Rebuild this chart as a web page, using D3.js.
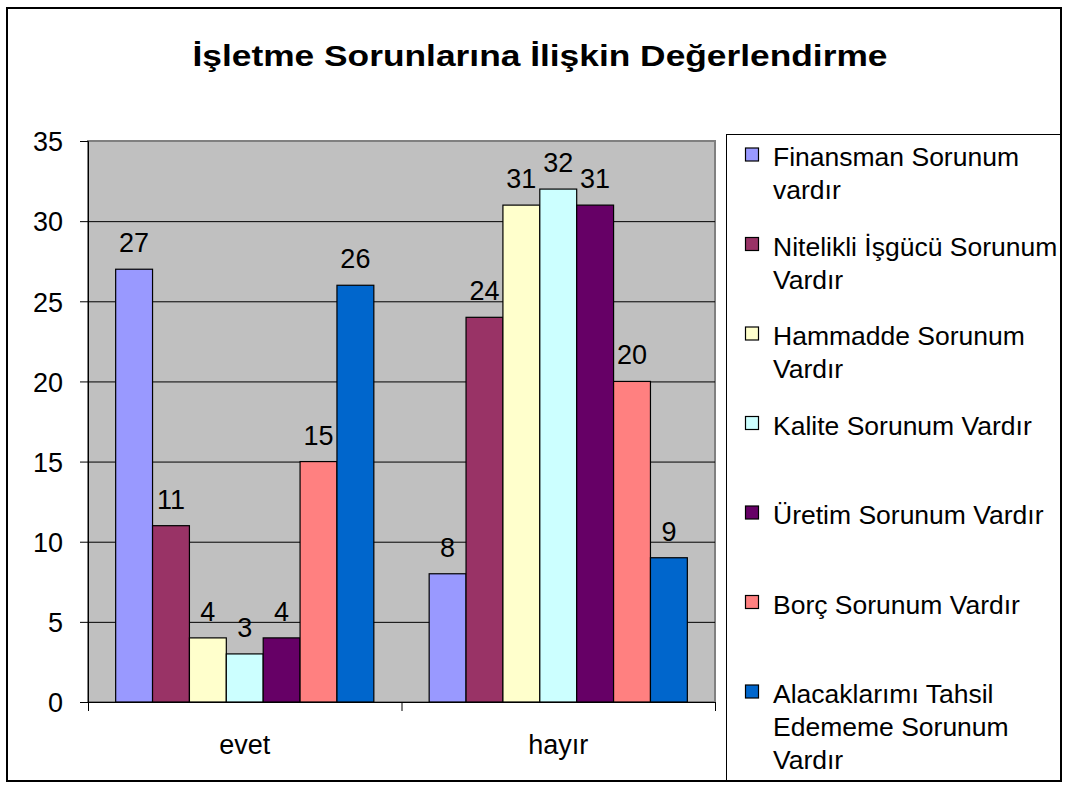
<!DOCTYPE html>
<html><head><meta charset="utf-8">
<script src="https://cdn.jsdelivr.net/npm/d3@7"></script>
<style>html,body{margin:0;padding:0;background:#fff;}svg{display:block;font-family:"Liberation Sans",Arial,sans-serif;}</style>
</head><body>
<script>
const title = "İşletme Sorunlarına İlişkin Değerlendirme";
const categories = ["evet", "hayır"];
const seriesNames = [
  ["Finansman Sorunum", "vardır"],
  ["Nitelikli İşgücü Sorunum", "Vardır"],
  ["Hammadde Sorunum", "Vardır"],
  ["Kalite Sorunum Vardır"],
  ["Üretim Sorunum Vardır"],
  ["Borç Sorunum Vardır"],
  ["Alacaklarımı Tahsil", "Edememe Sorunum", "Vardır"]
];
const seriesColors = ["#9999FF", "#993366", "#FFFFCC", "#CCFFFF", "#660066", "#FF8080", "#0066CC"];
const evetValues = [27, 11, 4, 3, 4, 15, 26];
const hayirValues = [8, 24, 31, 32, 31, 20, 9];
const yTicks = [0, 5, 10, 15, 20, 25, 30, 35];

const W = 1067, H = 789;
const svg = d3.select("body").append("svg").attr("width", W).attr("height", H);

// outer border
svg.append("rect").attr("x", 7).attr("y", 8).attr("width", 1054).attr("height", 773)
  .attr("fill", "#fff").attr("stroke", "#000").attr("stroke-width", 2);

// title
svg.append("text").attr("x", 540).attr("y", 66).attr("text-anchor", "middle")
  .attr("font-size", 29).attr("font-weight", "bold")
  .attr("textLength", 695).attr("lengthAdjust", "spacingAndGlyphs")
  .text(title);

const plot = {left: 88, right: 715, top: 141, bottom: 702};
const y = d3.scaleLinear().domain([0, 35]).range([plot.bottom, plot.top]);
const x0 = d3.scaleBand().domain(categories).range([plot.left, plot.right]).paddingInner(0).paddingOuter(0);
const bandW = x0.bandwidth();
const barW = bandW / (seriesNames.length + 1.5);
const x1 = d3.scaleBand().domain(d3.range(seriesNames.length)).range([0.75 * barW, bandW - 0.75 * barW]).padding(0);

// plot background
svg.append("rect").attr("x", plot.left).attr("y", plot.top)
  .attr("width", plot.right - plot.left).attr("height", plot.bottom - plot.top)
  .attr("fill", "#C0C0C0").attr("stroke", "#808080").attr("stroke-width", 2);

// gridlines
svg.append("g").selectAll("line").data(yTicks.filter(t => t > 0 && t < 35)).join("line")
  .attr("x1", plot.left).attr("x2", plot.right)
  .attr("y1", d => y(d) + 0.5).attr("y2", d => y(d) + 0.5)
  .attr("stroke", "#000").attr("stroke-width", 1);

// y axis
const yAxis = d3.axisLeft(y).tickValues(yTicks).tickSize(8).tickPadding(17);
const gy = svg.append("g").attr("transform", `translate(${plot.left},0)`).call(yAxis);
gy.select(".domain").attr("stroke", "#000").attr("stroke-width", 1);
gy.selectAll(".tick line").attr("stroke", "#000");
gy.selectAll("text").attr("font-size", 27).attr("fill", "#000")
  .attr("font-family", "'Liberation Sans', Arial, sans-serif").attr("dy", "0.36em");

// bars
const data = [evetValues, hayirValues];
const groups = svg.append("g").selectAll("g").data(categories).join("g")
  .attr("transform", d => `translate(${x0(d)},0)`);
groups.each(function(cat, ci) {
  const g = d3.select(this);
  const vals = data[ci];
  g.selectAll("rect").data(vals).join("rect")
    .attr("x", (d, i) => x1(i)).attr("width", x1.bandwidth())
    .attr("y", d => y(d)).attr("height", d => y(0) - y(d))
    .attr("fill", (d, i) => seriesColors[i]).attr("stroke", "#000").attr("stroke-width", 1.2);
  g.selectAll("text").data(vals).join("text")
    .attr("x", (d, i) => x1(i) + x1.bandwidth() / 2).attr("y", d => y(d) - 17)
    .attr("text-anchor", "middle").attr("font-size", 27).text(d => d);
});

// x axis
const xAxisLine = svg.append("g");
xAxisLine.append("line").attr("x1", plot.left - 8).attr("x2", plot.right)
  .attr("y1", plot.bottom + 0.5).attr("y2", plot.bottom + 0.5).attr("stroke", "#000");
xAxisLine.selectAll("line.tk").data([plot.left, plot.left + bandW, plot.right]).join("line")
  .attr("class", "tk").attr("x1", d => d + 0.5).attr("x2", d => d + 0.5)
  .attr("y1", plot.bottom).attr("y2", plot.bottom + 9).attr("stroke", "#000");
svg.append("g").selectAll("text").data(categories).join("text")
  .attr("x", d => x0(d) + bandW / 2).attr("y", 754).attr("text-anchor", "middle")
  .attr("font-size", 27).text(d => d);

// legend
svg.append("rect").attr("x", 726.5).attr("y", 134.5).attr("width", 334).attr("height", 646)
  .attr("fill", "#fff").attr("stroke", "#000").attr("stroke-width", 1);
const lg = svg.append("g").selectAll("g").data(seriesNames).join("g")
  .attr("transform", (d, i) => `translate(0,${166 + i * 89.5})`);
lg.append("rect").attr("x", 745.5).attr("y", -18).attr("width", 13).attr("height", 13)
  .attr("fill", (d, i) => seriesColors[i]).attr("stroke", "#000").attr("stroke-width", 1.2);
lg.each(function(lines) {
  d3.select(this).selectAll("text").data(lines).join("text")
    .attr("x", 773).attr("y", (d, j) => j * 33).attr("font-size", 26.5).text(d => d);
});
</script>
</body></html>
